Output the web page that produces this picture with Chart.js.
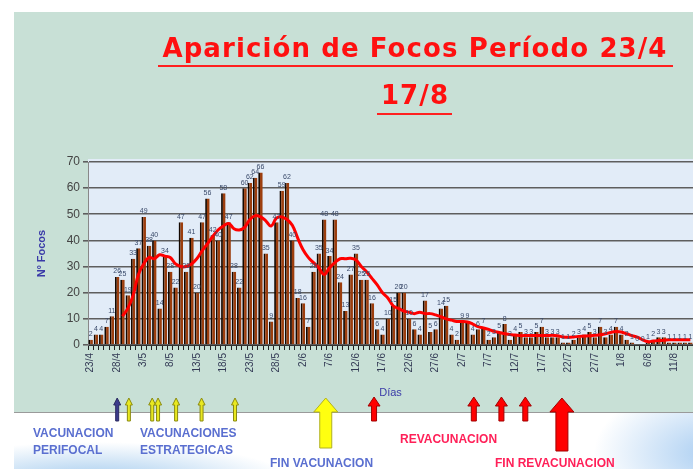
<!DOCTYPE html>
<html>
<head>
<meta charset="utf-8">
<script src="https://cdn.jsdelivr.net/npm/chart.js@4/dist/chart.umd.min.js"></script>
<style>
  html, body { margin: 0; padding: 0; }
  body { width: 693px; height: 469px; position: relative; overflow: hidden; background: #ffffff; font-family: "Liberation Sans", Arial, sans-serif; }
  #green { position: absolute; left: 14px; top: 12px; width: 679px; height: 400px; background: #c8e0d6; }
  #bottom { position: absolute; left: 14px; top: 412px; width: 679px; height: 57px;
    background:
      radial-gradient(ellipse 200px 40px at 80px 69px, rgba(150,195,235,0.9), rgba(150,195,235,0) 100%),
      radial-gradient(ellipse 120px 70px at 700px 40px, rgba(160,200,240,0.9), rgba(160,200,240,0) 100%),
      #ffffff;
    border-top: 1px solid #9a9a9a; }
  #c { position: absolute; left: 0; top: 0; }
  .ttl { position: absolute; color: #ff1010; font-family: "DejaVu Sans", sans-serif; font-weight: bold; font-size: 26px; letter-spacing: 1.1px; text-align: center; white-space: nowrap; line-height: 30px; }
  .uline { position: absolute; height: 2px; background: #ff2020; }
  .note { position: absolute; font-weight: bold; font-size: 12px; line-height: 17px; white-space: nowrap; }
  .blue { color: #5a6fd0; }
  .red { color: #ff2058; }
</style>
</head>
<body>
<div id="green"></div>
<div id="bottom"></div>
<canvas id="c" width="693" height="469"></canvas>
<div class="ttl" style="left:150px; width:530px; top:33px;">Aparición de Focos Período 23/4</div>
<div class="uline" style="left:158px; width:515px; top:65px;"></div>
<div class="ttl" style="left:330px; width:170px; top:80px;">17/8</div>
<div class="uline" style="left:377px; width:75px; top:113px;"></div>
<div class="note blue" style="left:33px; top:425px;">VACUNACION<br>PERIFOCAL</div>
<div class="note blue" style="left:140px; top:425px;">VACUNACIONES<br>ESTRATEGICAS</div>
<div class="note blue" style="left:270px; top:455px;">FIN VACUNACION</div>
<div class="note red" style="left:400px; top:431px;">REVACUNACION</div>
<div class="note red" style="left:495px; top:455px;">FIN REVACUNACION</div>
<script>
// Days (categories)
const days = [
  '23/4','24/4','25/4','26/4','27/4','28/4','29/4','30/4',
  '1/5','2/5','3/5','4/5','5/5','6/5','7/5','8/5','9/5','10/5','11/5','12/5','13/5','14/5','15/5','16/5','17/5','18/5','19/5','20/5','21/5','22/5','23/5','24/5','25/5','26/5','27/5','28/5','29/5','30/5','31/5',
  '1/6','2/6','3/6','4/6','5/6','6/6','7/6','8/6','9/6','10/6','11/6','12/6','13/6','14/6','15/6','16/6','17/6','18/6','19/6','20/6','21/6','22/6','23/6','24/6','25/6','26/6','27/6','28/6','29/6','30/6',
  '1/7','2/7','3/7','4/7','5/7','6/7','7/7','8/7','9/7','10/7','11/7','12/7','13/7','14/7','15/7','16/7','17/7','18/7','19/7','20/7','21/7','22/7','23/7','24/7','25/7','26/7','27/7','28/7','29/7','30/7','31/7',
  '1/8','2/8','3/8','4/8','5/8','6/8','7/8','8/8','9/8','10/8','11/8','12/8','13/8','14/8'
];
// Tick labels shown on the x axis
const tickLabels = ['23/4','28/4','3/5','8/5','13/5','18/5','23/5','28/5','2/6','7/6','12/6','17/6','22/6','27/6','2/7','7/7','12/7','17/7','22/7','27/7','1/8','6/8','11/8'];
// Nº Focos per day (bars)
const focos = [
  2,4,4,7,11,26,25,19,33,37,
  49,38,40,14,34,28,22,47,28,41,
  20,47,56,42,40,58,47,28,22,60,
  62,64,66,35,9,47,59,62,40,18,
  16,7,28,35,48,34,48,24,13,27,
  35,25,25,16,6,4,10,15,20,20,
  10,6,4,17,5,6,14,15,4,2,
  9,9,4,6,7,2,3,5,8,2,
  4,5,3,3,5,7,3,3,3,1,
  1,2,3,4,5,3,7,3,4,7,
  4,2,1,0,0,1,2,3,3,1,
  1,1,1,1
];
// Trend line (red)
const tendencia = [
  null,null,null,null,null,null,11,14,19,27,
  31,33.5,33,34.5,34,33.5,31,30,30,31,
  33,36,38.7,41.5,44,45.5,46.5,44.5,44,45,
  48,49.5,49,47.5,45.5,48.5,49,48,45.8,41,
  36.5,33.5,31.5,29.5,27,29.5,31.5,33,33,33.2,
  32.5,30,28,25.5,23,20,18,15,14,13,
  12.5,12,12.5,12,12,11.5,10.8,10,9.5,9,
  9,8.8,8,7,6.5,6,5.2,4.8,4.3,4,
  3.8,3.6,3.6,3.6,3.6,3.6,3.6,3.7,3.5,3.1,
  3,3.1,3.3,3.4,3.5,3.7,3.9,4.3,4.8,5.2,
  5,4.3,3.6,3,2,1.3,1.5,1.7,1.8,2,
  2,2,2,2
];
// Arrow events (position in days from 23/4)
const vacunacionPerifocal = [5];
const vacunacionesEstrategicas = [7.2, 11.6, 12.7, 16.1, 20.9, 27.2];
const finVacunacion = [44.3];
const revacunacion = [53.4, 72.2, 77.4, 81.9];
const finRevacunacion = [88.8];

const plotBg = {
  id: 'plotBg',
  beforeDraw(chart) {
    const {ctx, chartArea: a} = chart;
    ctx.save();
    ctx.fillStyle = '#e2ecf8';
    ctx.fillRect(a.left, a.top - 3, a.right - a.left, a.bottom - a.top + 3);
    ctx.restore();
  }
};

const barLabels = {
  id: 'barLabels',
  afterDatasetsDraw(chart) {
    const {ctx} = chart;
    const meta = chart.getDatasetMeta(1);
    ctx.save();
    ctx.font = '7px "Liberation Sans", Arial';
    ctx.fillStyle = '#3a4a6a';
    ctx.textAlign = 'center';
    ctx.textBaseline = 'bottom';
    meta.data.forEach((bar, i) => {
      ctx.fillText(String(focos[i]), bar.x, bar.y - 2);
    });
    ctx.restore();
  }
};

function drawArrow(ctx, x, top, bottom, headW, headH, shaftW, fill, stroke) {
  ctx.beginPath();
  ctx.moveTo(x, top);
  ctx.lineTo(x + headW / 2, top + headH);
  ctx.lineTo(x + shaftW / 2, top + headH);
  ctx.lineTo(x + shaftW / 2, bottom);
  ctx.lineTo(x - shaftW / 2, bottom);
  ctx.lineTo(x - shaftW / 2, top + headH);
  ctx.lineTo(x - headW / 2, top + headH);
  ctx.closePath();
  ctx.fillStyle = fill;
  ctx.fill();
  ctx.lineWidth = 1;
  ctx.strokeStyle = stroke;
  ctx.stroke();
}

const arrows = {
  id: 'arrows',
  afterDraw(chart) {
    const {ctx} = chart;
    const xs = chart.scales.x;
    ctx.save();
    vacunacionPerifocal.forEach(d => drawArrow(ctx, xs.getPixelForValue(d), 398, 421, 7, 7, 3, '#3c3c8c', '#2a2a60'));
    vacunacionesEstrategicas.forEach(d => drawArrow(ctx, xs.getPixelForValue(d), 398, 421, 7, 7, 3, '#e8e820', '#8a8a10'));
    finVacunacion.forEach(d => drawArrow(ctx, xs.getPixelForValue(d), 398, 448, 24, 14, 12, '#ffff10', '#b0b020'));
    revacunacion.forEach(d => drawArrow(ctx, xs.getPixelForValue(d), 397, 421, 12, 9, 5, '#ff0000', '#a00000'));
    finRevacunacion.forEach(d => drawArrow(ctx, xs.getPixelForValue(d), 398, 451, 24, 14, 12, '#ff0000', '#a00000'));
    ctx.restore();
  }
};

new Chart(document.getElementById('c'), {
  type: 'bar',
  data: {
    labels: days,
    datasets: [
      {
        type: 'line',
        data: tendencia,
        borderColor: '#ff0000',
        borderWidth: 3,
        pointRadius: 0,
        tension: 0.4,
        spanGaps: false,
        order: 0
      },
      {
        type: 'bar',
        data: focos,
        backgroundColor: '#9c3e0e',
        borderColor: '#140800',
        borderWidth: {left: 1.8, right: 0, top: 0, bottom: 0},
        borderSkipped: false,
        barPercentage: 0.85,
        categoryPercentage: 1,
        order: 1
      }
    ]
  },
  options: {
    responsive: false,
    animation: false,
    layout: { padding: { left: 33, top: 162, right: 0, bottom: 69 } },
    plugins: { legend: { display: false }, tooltip: { enabled: false } },
    scales: {
      x: {
        grid: { drawOnChartArea: false, tickLength: 5, color: '#222' },
        border: { color: '#333' },
        ticks: {
          autoSkip: false, maxRotation: 90, minRotation: 90, padding: 3,
          color: '#333a55', font: { size: 10, family: '"Liberation Sans", Arial' },
          callback: function(v) { const l = this.getLabelForValue(v); return tickLabels.includes(l) ? l : ''; }
        },
        title: { display: true, text: 'Días', color: '#3a3aa8', font: { size: 11, family: '"Liberation Sans", Arial' }, padding: 0 },
        afterFit: s => { s.height = 55; s.paddingLeft = 0; s.paddingRight = 0; }
      },
      y: {
        min: 0, max: 70,
        ticks: { stepSize: 10, padding: 3, color: '#444', font: { size: 12, family: '"Liberation Sans", Arial' } },
        grid: { color: '#5e5e5e', lineWidth: 1.6, tickLength: 5 },
        border: { color: '#888' },
        title: { display: true, text: 'Nº Focos', color: '#3a3aa8', font: { size: 11, weight: 'bold', family: '"Liberation Sans", Arial' }, padding: 2 },
        afterFit: s => { s.width = 55; s.paddingTop = 0; s.paddingBottom = 0; }
      }
    }
  },
  plugins: [plotBg, barLabels, arrows]
});
</script>
</body>
</html>
